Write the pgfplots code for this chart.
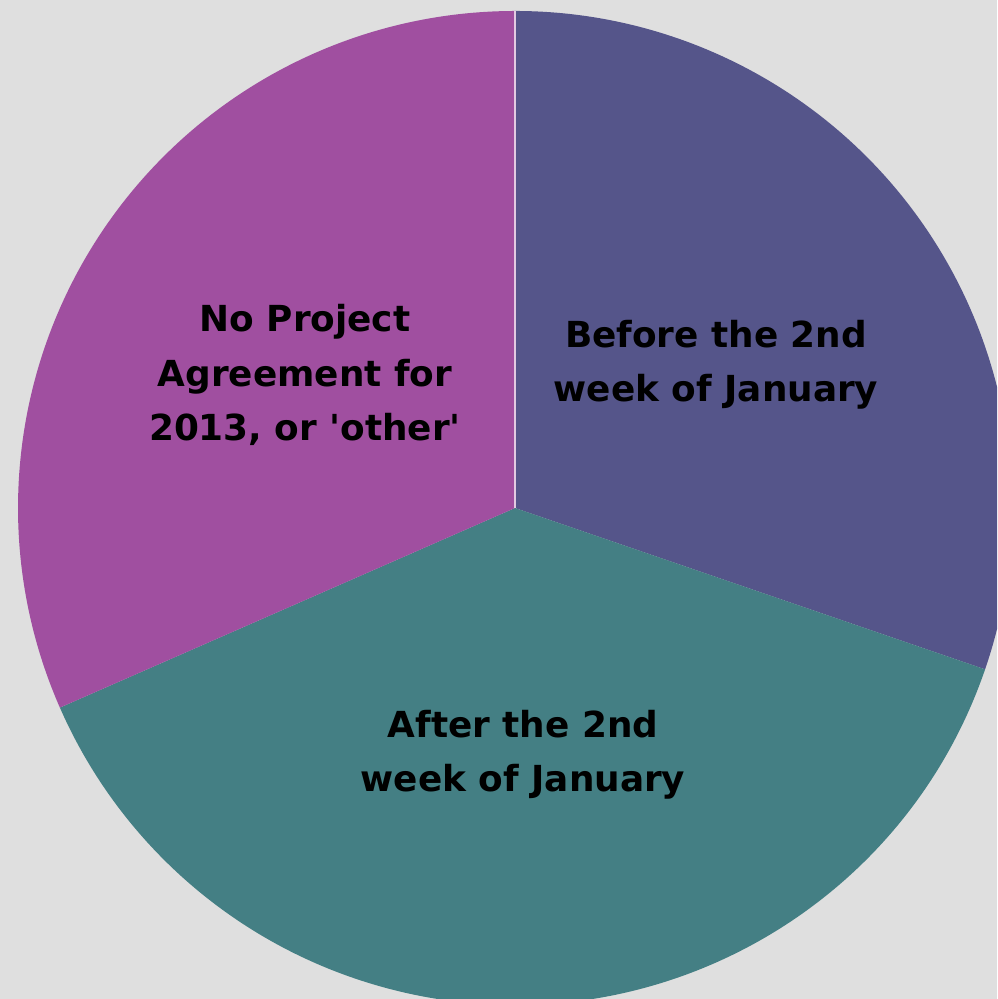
\documentclass[border=0pt]{standalone}
\usepackage{pgfplots}
\pgfplotsset{compat=1.18}
\usepackage{pgfplotstable}
\usepackage{fontspec}
\setmainfont{DejaVu Sans}[Ligatures=TeXOff]
\definecolor{bgc}{HTML}{DFDFDF}
\definecolor{cBefore}{HTML}{55558A}
\definecolor{cAfter}{HTML}{447F84}
\definecolor{cNo}{HTML}{A04FA0}
\pgfplotstableread{
label value
Before 23
After 29
NoProject 24
}\piedata
\begin{document}
\begin{tikzpicture}
\pgfplotstablegetelem{0}{value}\of\piedata \let\vA\pgfplotsretval
\pgfplotstablegetelem{1}{value}\of\piedata \let\vB\pgfplotsretval
\pgfplotstablegetelem{2}{value}\of\piedata \let\vC\pgfplotsretval
\pgfmathsetmacro{\tot}{\vA+\vB+\vC}
\pgfmathsetmacro{\aA}{90}
\pgfmathsetmacro{\aB}{90-360*\vA/\tot}
\pgfmathsetmacro{\aC}{\aB-360*\vB/\tot}
\pgfmathsetmacro{\aD}{\aC-360*\vC/\tot}
\begin{axis}[
  scale only axis, width=99.7mm, height=99.9mm,
  xmin=-515, xmax=482, ymin=-491, ymax=508,
  hide axis, clip=true,
]
\fill[bgc] (rel axis cs:0,0) rectangle (rel axis cs:1,1);
\fill[cBefore] (axis cs:0,0) -- (axis cs:{497*cos(\aA)},{497*sin(\aA)}) arc[start angle=\aA, end angle=\aB, radius=49.7mm] -- cycle;
\fill[cAfter] (axis cs:0,0) -- (axis cs:{497*cos(\aB)},{497*sin(\aB)}) arc[start angle=\aB, end angle=\aC, radius=49.7mm] -- cycle;
\fill[cNo] (axis cs:0,0) -- (axis cs:{497*cos(\aC)},{497*sin(\aC)}) arc[start angle=\aC, end angle=\aD, radius=49.7mm] -- cycle;
\draw[white!70!cNo, line width=0.3pt] (axis cs:0,0) -- (axis cs:0,497);
\begin{scope}[every node/.style={align=center, font=\fontsize{10.2}{15.4}\selectfont\bfseries, text=black}]
\node at (axis cs:-210,133) {No Project\\Agreement for\\2013, or 'other'};
\node at (axis cs:201,143) {Before the 2nd\\week of January};
\node at (axis cs:8,-247) {After the 2nd\\week of January};
\end{scope}
\end{axis}
\end{tikzpicture}
\end{document}
